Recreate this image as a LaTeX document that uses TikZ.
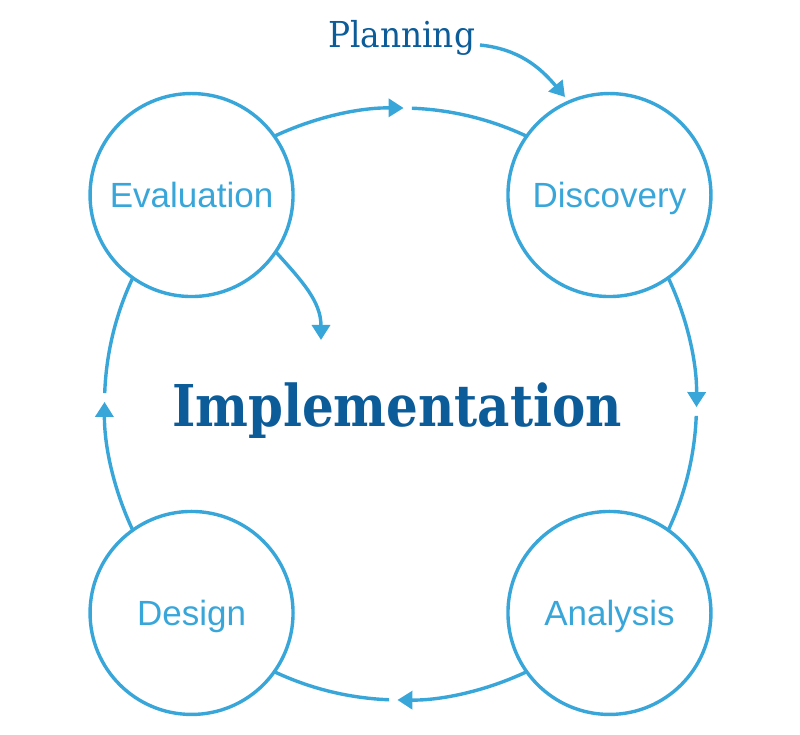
\documentclass[tikz,border=0pt]{standalone}
\usepackage{fontspec}
\setmainfont{Liberation Sans}
\newfontfamily\slab{DejaVu Serif}
\usetikzlibrary{arrows.meta,calc}
\definecolor{lb}{HTML}{39A6DA}
\definecolor{db}{HTML}{0B5C99}
\begin{document}
\begin{tikzpicture}[x=1pt,y=1pt,
  bubble/.style={circle,draw=lb,line width=3.4pt,minimum size=203pt,inner sep=0pt,outer sep=0pt},
  lbl/.style={text=lb,font=\fontsize{35}{40}\selectfont,anchor=base,inner sep=0pt},
  ring/.style={draw=lb,line width=3.4pt},
  tipped/.style={-{Triangle[length=15pt,width=18pt]}},
]
\useasboundingbox (0,0) rectangle (800,735);
\coordinate (c) at (400.5,331);
% small circles
\node[bubble] (eval) at ($(c)+(135:295.5)$) {};
\node[bubble] (disc) at ($(c)+(45:295.5)$) {};
\node[bubble] (desi) at ($(c)+(225:295.5)$) {};
\node[bubble] (anal) at ($(c)+(-45:295.5)$) {};
\node[lbl] (evalT) at ($(eval.center)+(0,-12.5)$) {Evaluation};
\node[lbl] (discT) at ($(disc.center)+(0,-12.5)$) {Discovery};
\node[lbl] (desiT) at ($(desi.center)+(0,-12.5)$) {Design};
\node[lbl] (analT) at ($(anal.center)+(0,-12.5)$) {Analysis};
% ring arcs with arrow tips
\foreach \s/\t/\u/\v [count=\i] in {115.3/89.4/87.8/64.7, 25.3/-0.6/-2.3/-25.3, -64.7/-90.6/-92.2/-115.3, -154.7/-180.4/-182.1/-205.3}{
  \coordinate (s\i) at ($(c)+(\s:296)$);
  \coordinate (r\i) at ($(c)+(\u:296)$);
  \draw[ring,tipped] (s\i) arc[start angle=\s,end angle=\t,radius=296];
  \draw[ring] (r\i) arc[start angle=\u,end angle=\v,radius=296];
}
% centre text
\node[anchor=base,text=db,inner sep=0pt] (impl) at (397,308)
  {\resizebox{450pt}{\height}{\fontsize{57.6}{60}\selectfont\slab\bfseries Implementation}};
\coordinate (implTip) at (321,395);
\draw[ring,tipped] (eval.-34) to[out=-48,in=90] (implTip);
% planning
\node[anchor=base,text=db,inner sep=0pt] (plan) at (401.5,687.3)
  {\resizebox{147pt}{\height}{\fontsize{35.7}{40}\selectfont\slab Planning}};
\coordinate (planS) at (480,690);
\coordinate (planTip) at (565,638);
\draw[ring,tipped] (planS) to[out=-6,in=130] (planTip);
\end{tikzpicture}
\end{document}
